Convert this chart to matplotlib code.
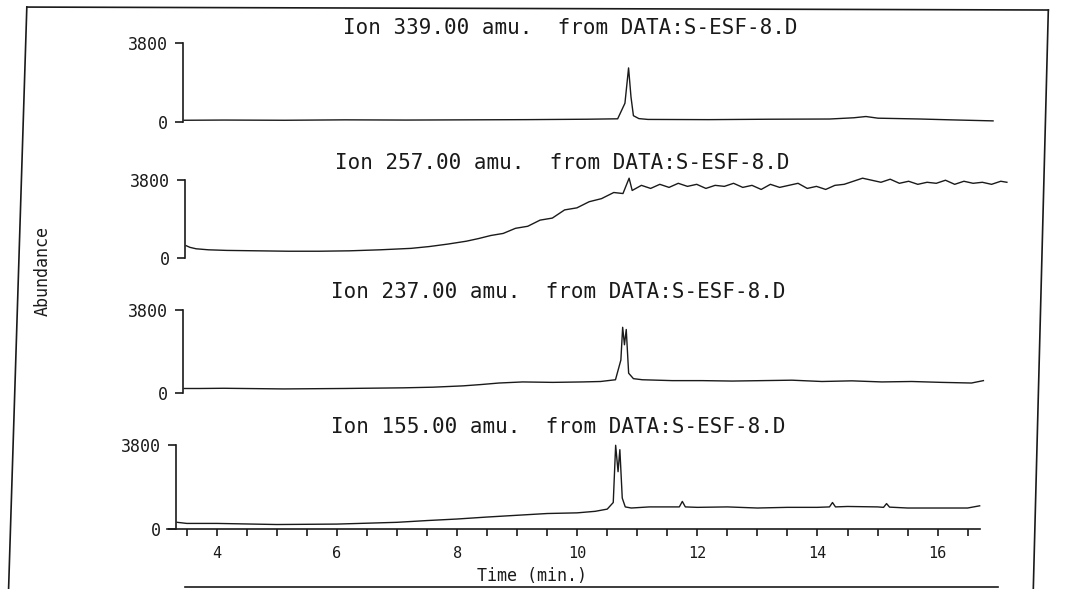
import matplotlib.pyplot as plt
from matplotlib.lines import Line2D

# ion traces (time in min, abundance)
t_339 = [3.34, 4.0, 5.0, 6.0, 7.0, 8.0, 9.0, 10.0, 10.5, 10.62, 10.68, 10.72, 10.76, 10.85,
         11.0, 12.0, 13.0, 14.0, 14.4, 14.6, 14.8, 15.5, 16.0, 16.7]
y_339 = [80, 90, 80, 100, 90, 100, 110, 130, 150, 900, 2600, 1200, 300, 160,
         120, 110, 130, 140, 200, 260, 180, 140, 100, 50]

t_257 = [3.34, 3.4, 3.5, 3.7, 4.0, 4.5, 5.0, 5.5, 6.0, 6.5, 7.0, 7.3, 7.6, 7.9, 8.1, 8.3, 8.5,
         8.7, 8.9, 9.1, 9.3, 9.5, 9.7, 9.9, 10.1, 10.3, 10.45, 10.55, 10.6,
         10.75, 10.9, 11.05, 11.2, 11.35, 11.5, 11.65, 11.8, 11.95, 12.1, 12.25, 12.4, 12.55,
         12.7, 12.85, 13.0, 13.15, 13.3, 13.45, 13.6, 13.75, 13.9, 14.05, 14.2, 14.35, 14.5,
         14.65, 14.8, 14.95, 15.1, 15.25, 15.4, 15.55, 15.7, 15.85, 16.0, 16.15, 16.3, 16.45,
         16.6, 16.7]
y_257 = [600, 520, 450, 400, 370, 350, 330, 330, 350, 400, 470, 560, 680, 820, 950, 1100, 1200,
         1450, 1550, 1850, 1950, 2350, 2450, 2750, 2900, 3200, 3150, 3900, 3300,
         3550, 3400, 3600, 3450, 3650, 3500, 3600, 3400, 3550, 3500, 3650, 3450, 3550,
         3350, 3600, 3450, 3550, 3650, 3400, 3500, 3350, 3550, 3600, 3750, 3900, 3800,
         3700, 3850, 3650, 3750, 3600, 3700, 3650, 3800, 3600, 3750, 3650, 3700, 3600,
         3750, 3700]

t_237 = [3.34, 3.6, 4.0, 5.0, 6.0, 7.0, 7.5, 8.0, 8.3, 8.6, 9.0, 9.5, 10.0, 10.3, 10.55, 10.64,
         10.67, 10.7, 10.73, 10.77, 10.85, 11.0, 11.5, 12.0, 12.5, 13.0, 13.5, 14.0, 14.5, 15.0,
         15.5, 16.0, 16.5, 16.7]
y_237 = [200, 200, 210, 180, 200, 230, 260, 320, 380, 450, 500, 480, 500, 520, 600, 1500,
         3000, 2200, 2900, 900, 650, 600, 560, 560, 540, 560, 580, 520, 550, 500,
         520, 480, 450, 560]

t_155 = [3.34, 3.5, 4.0, 5.0, 6.0, 7.0, 7.5, 8.0, 8.5, 9.0, 9.5, 10.0, 10.3, 10.5, 10.6, 10.64,
         10.68, 10.71, 10.75, 10.8, 10.9, 11.2, 11.7, 11.75, 11.8, 12.0, 12.5, 13.0, 13.5, 14.0,
         14.2, 14.25, 14.3, 14.5, 15.0, 15.1, 15.15, 15.2, 15.5, 16.0, 16.5, 16.7]
y_155 = [300, 250, 250, 200, 220, 300, 380, 450, 540, 620, 700, 730, 800, 900, 1200, 3800,
         2600, 3600, 1400, 1000, 950, 1000, 1000, 1250, 1000, 980, 1000, 950, 980, 980,
         1000, 1200, 1000, 1020, 1000, 980, 1150, 990, 950, 950, 950, 1050]

ions = ["339.00", "257.00", "237.00", "155.00"]
traces = [(t_339, y_339), (t_257, y_257), (t_237, y_237), (t_155, y_155)]
x_ticks = [4, 6, 8, 10, 12, 14, 16]

mono = "DejaVu Sans Mono"
ink = "#1a1a1a"

fig = plt.figure(figsize=(10.73, 5.89), dpi=100)

# panel boxes (left, bottom, width, height) in figure fraction - the scan is a bit skewed
boxes = [(0.1705, 0.793, 0.755, 0.134), (0.1724, 0.562, 0.766, 0.132),
         (0.1705, 0.333, 0.746, 0.141), (0.164, 0.102, 0.749, 0.142)]
titles_xy = [(0.531, 0.952), (0.524, 0.723), (0.520, 0.504), (0.520, 0.275)]

for i, ((t, y), box) in enumerate(zip(traces, boxes)):
    ax = fig.add_axes(box)
    ax.plot(t, y, color=ink, lw=1.0, clip_on=False)
    ax.set_xlim(3.32, 16.7)
    ax.set_ylim(0, 3800)
    for s in ["top", "right"]:
        ax.spines[s].set_visible(False)
    ax.spines["left"].set_linewidth(1.2)
    ax.spines["left"].set_color(ink)
    ax.set_yticks([0, 3800])
    ax.set_yticklabels(["0", "3800"], family=mono, fontsize=12, color=ink)
    ax.tick_params(axis="y", direction="out", length=6, width=1.2, color=ink, pad=5)
    if i < 3:
        ax.spines["bottom"].set_visible(False)
        ax.set_xticks([])
    else:
        ax.spines["bottom"].set_linewidth(1.2)
        ax.spines["bottom"].set_color(ink)
        ax.spines["bottom"].set_bounds(3.17, 16.7)
        ax.set_xticks(x_ticks)
        ax.set_xticklabels([str(v) for v in x_ticks], family=mono, fontsize=11, color=ink)
        ax.set_xticks([v + 0.5 * k for v in range(3, 17) for k in (0, 1)
                       if 3.32 < v + 0.5 * k < 16.7 and (v + 0.5 * k) not in x_ticks],
                      minor=True)
        ax.tick_params(axis="x", which="both", direction="out", length=5, width=1.2,
                       color=ink, pad=7)
    ax.patch.set_alpha(0)
    fig.text(titles_xy[i][0], titles_xy[i][1], "Ion %s amu.  from DATA:S-ESF-8.D" % ions[i],
             family=mono, fontsize=15, color=ink, ha="center", va="center")

fig.text(0.496, 0.022, "Time (min.)", family=mono, fontsize=12, color=ink,
         ha="center", va="center")
fig.text(0.040, 0.54, "Abundance", family=mono, fontsize=12, color=ink,
         rotation=90, ha="center", va="center")

# scanned page frame
frame = [((0.025, 0.988), (0.008, 0.0)), ((0.025, 0.988), (0.977, 0.983)),
         ((0.977, 0.983), (0.963, 0.0)), ((0.172, 0.004), (0.93, 0.004))]
for (x0, y0), (x1, y1) in frame:
    fig.add_artist(Line2D([x0, x1], [y0, y1], color=ink, lw=1.2, transform=fig.transFigure))

fig.savefig("out.png", dpi=100)
